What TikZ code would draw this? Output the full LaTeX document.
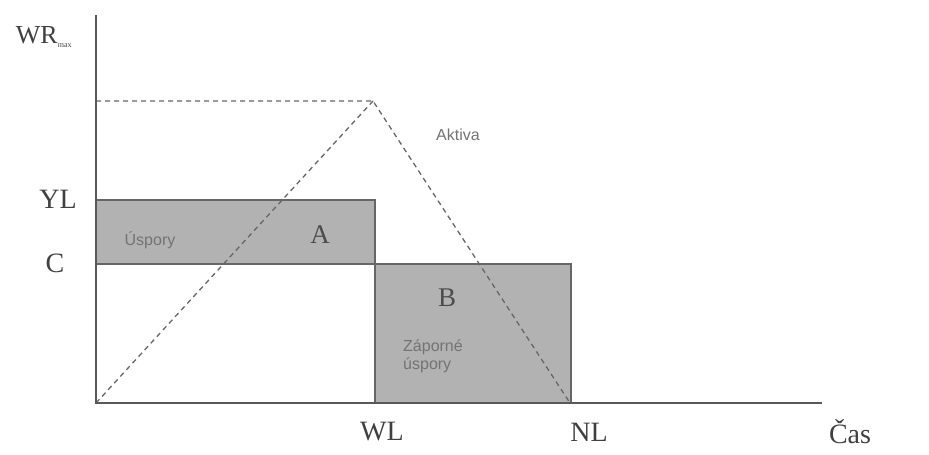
\documentclass[tikz,border=0pt]{standalone}
\usepackage{fontspec}
\setmainfont{Liberation Serif}
\setsansfont{Liberation Sans}
\begin{document}
\begin{tikzpicture}[x=1pt,y=-1pt,
  axis/.style={draw=black!65,line width=2pt},
  boxarea/.style={fill=black!30,draw=black!60,line width=1.8pt},
  dashline/.style={draw=black!60,line width=1.3pt,dash pattern=on 5pt off 4pt},
  big/.style={font=\fontsize{28}{30}\selectfont,text=black!75},
  small/.style={font=\sffamily\fontsize{16}{17}\selectfont,text=black!55,align=left}]
\useasboundingbox (0,0) rectangle (929,455);
\coordinate (O) at (96,403);
\coordinate (top) at (96,15);
\coordinate (xend) at (822,403);
\coordinate (peak) at (373,101);
\coordinate (hstart) at (96,101);
\coordinate (zero) at (570,403);
\filldraw[boxarea] (96,200) rectangle (375,264);
\filldraw[boxarea] (375,264) rectangle (571,403);
\draw[dashline] (hstart) -- (peak) -- (zero);
\draw[dashline] (O) -- (peak);
\draw[axis] (top) -- (O) -- (xend);
\node[big,font=\fontsize{26}{28}\selectfont] (wr) at (44,37) {WR\textsubscript{\fontsize{8}{9}\selectfont max}};
\node[big] (yl) at (58,199) {YL};
\node[big] (c) at (55,263) {C};
\node[big] (wl) at (382,432) {WL};
\node[big] (nl) at (589,432) {NL};
\node[big] (cas) at (850,432) {Čas};
\node[small] (usp) at (150,240) {Úspory};
\node[font=\fontsize{27}{29}\selectfont,text=black!70] (a) at (320,235) {A};
\node[font=\fontsize{27}{29}\selectfont,text=black!70] (b) at (447,298) {B};
\node[small,font=\sffamily\fontsize{16}{18}\selectfont] (zap) at (433,356) {Záporné\\úspory};
\node[small] (akt) at (458,135) {Aktiva};
\end{tikzpicture}
\end{document}
